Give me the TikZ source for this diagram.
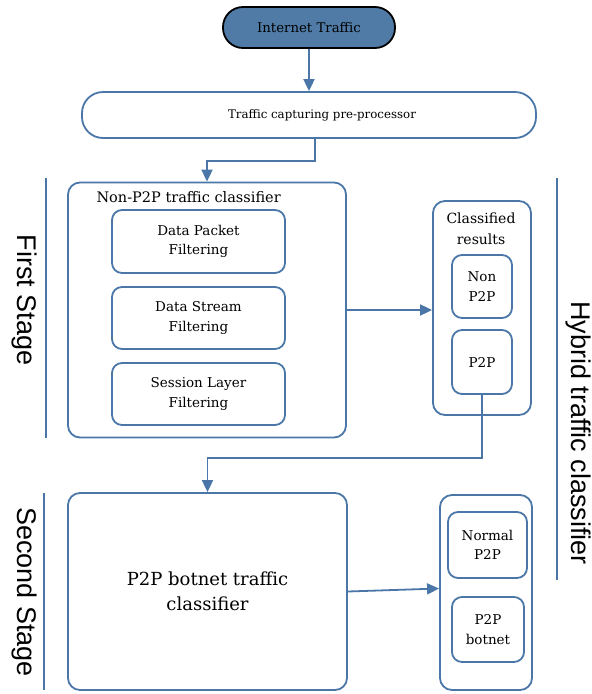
\documentclass[tikz,border=0pt]{standalone}
\usepackage{fontspec}
\setmainfont{DejaVu Serif}
\newfontfamily\sidefont{Liberation Sans}
\usepackage{xcolor}
\usetikzlibrary{shapes,arrows,arrows.meta}
\usetikzlibrary{positioning}

\definecolor{lineblue}{RGB}{74,119,168}
\definecolor{pillblue}{RGB}{79,123,166}

\tikzset{
    box/.style={draw=lineblue, line width=1.8pt, rounded corners=12pt,
        align=center, inner sep=0pt},
    inbox/.style={box, rounded corners=10pt},
    small/.style={font=\fontsize{13.5}{19.5}\selectfont},
    flow/.style={-{Triangle[length=12pt,width=11pt]}, draw=lineblue,
        line width=1.8pt},
    link/.style={draw=lineblue, line width=1.8pt},
    stage/.style={font=\sidefont\fontsize{27}{30}\selectfont, rotate=-90}
}

\begin{document}
\begin{tikzpicture}[x=1pt, y=-1pt]

    \useasboundingbox (0,0) rectangle (592,694);

    \node[draw=black, line width=1.8pt, fill=pillblue, rounded corners=20pt,
        minimum width=172pt, minimum height=41pt,
        font=\fontsize{13.3}{16}\selectfont]
        (inet) at (309,27.5) {Internet Traffic};
    \node[box, rounded corners=21pt, minimum width=454pt, minimum height=46pt]
        (cap) at (309,115) {};
    \node[font=\fontsize{11.8}{14}\selectfont]
        (captext) at (322,115) {Traffic capturing pre-processor};

    % first stage
    \node[box, minimum width=278pt, minimum height=255pt]
        (nonp) at (207,310) {};
    \node[font=\fontsize{14.5}{17}\selectfont, anchor=west]
        (nonptitle) at (93,197) {Non-P2P traffic classifier};
    \node[inbox, small, minimum width=173pt, minimum height=63pt]
        (packet) at (198.5,241.5) {Data Packet\\Filtering};
    \node[inbox, small, minimum width=173pt, minimum height=62pt]
        (stream) at (198.5,318) {Data Stream\\Filtering};
    \node[inbox, small, minimum width=173pt, minimum height=62pt]
        (session) at (198.5,394) {Session Layer\\Filtering};

    \node[box, minimum width=98pt, minimum height=214pt]
        (res) at (482,308) {};
    \node[font=\fontsize{14}{21}\selectfont, align=center]
        (restitle) at (481,229) {Classified\\results};
    \node[inbox, small, minimum width=60pt, minimum height=63pt]
        (nonpp) at (482,286.5) {Non\\P2P};
    \node[inbox, small, minimum width=60pt, minimum height=64pt]
        (pp) at (482,362) {P2P};

    % second stage
    \node[box, minimum width=279pt, minimum height=197pt,
        font=\fontsize{18}{25}\selectfont]
        (bot) at (207.5,591.5) {P2P botnet traffic\\classifier};
    \node[box, minimum width=92pt, minimum height=195pt]
        (out) at (486,592.5) {};
    \node[inbox, small, minimum width=79pt, minimum height=66pt]
        (normal) at (487.5,545) {Normal\\P2P};
    \node[inbox, small, minimum width=72pt, minimum height=65pt]
        (botnet) at (488,629.5) {P2P\\botnet};

    % side labels
    \coordinate (fa) at (46,178);
    \coordinate (fb) at (46,438);
    \coordinate (sa) at (44,493);
    \coordinate (sb) at (44,690);
    \coordinate (ha) at (557,178);
    \coordinate (hb) at (557,580);
    \draw[link] (fa) -- (fb);
    \draw[link] (sa) -- (sb);
    \draw[link] (ha) -- (hb);
    \node[stage] (first) at (24,300) {First Stage};
    \node[stage] (second) at (24,592) {Second Stage};
    \node[stage] (hybrid) at (578,433) {Hybrid traffic classifier};

    % connectors
    \draw[flow] (inet.south) -- (cap.north);
    \draw[flow] ([xshift=6pt]cap.south) |- ++(0,22) -| (nonp.north);
    \draw[flow] (nonp.east) -- (nonp.east -| res.west);
    \draw[flow] (pp.south) |- ++(0,63) -| (bot.north);
    \draw[flow] (bot.east) -- ([yshift=4pt]out.west);

\end{tikzpicture}
\end{document}
